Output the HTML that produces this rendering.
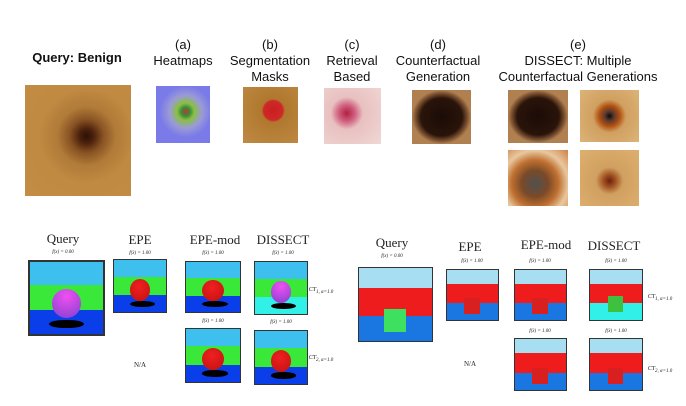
<!DOCTYPE html>
<html><head><meta charset="utf-8"><style>
body{margin:0;width:686px;height:406px;background:#fff;position:relative;overflow:hidden;font-family:"Liberation Sans",sans-serif}
.a{position:absolute}
.t{position:absolute;text-align:center;font-size:13px;line-height:16px;color:#111;transform:translateX(-50%);white-space:nowrap}
.s{position:absolute;font-family:"Liberation Serif",serif;color:#222;transform:translateX(-50%);white-space:nowrap}
.h{font-size:13px}
.f{font-size:5px;font-style:italic}
.box{position:absolute;border:1.5px solid #333;overflow:hidden;box-sizing:border-box}
.sky{position:absolute;left:0;right:0;top:0;height:32%;background:#3ec0ef}
.grn{position:absolute;left:0;right:0;top:32%;height:35%;background:#3ae83a}
.flr{position:absolute;left:0;right:0;top:67%;bottom:0;background:#0a3ee8}
.ball{position:absolute;border-radius:50%}
.rb{background:radial-gradient(circle at 45% 35%,#f02020,#c01010)}
.shd{position:absolute;border-radius:50%;background:#000}
.sky2{position:absolute;left:0;right:0;top:0;height:28%;background:#a8def2}
.red2{position:absolute;left:0;right:0;top:28%;height:38%;background:#ee1c1c}
.flr2{position:absolute;left:0;right:0;top:66%;bottom:0;background:#1a76e0}
.cube{position:absolute}
</style></head><body>
<div class="t" style="left:77px;top:50px;font-weight:bold">Query: Benign</div>
<div class="a" style="left:25px;top:85px;width:106px;height:111px;background:radial-gradient(circle at 58% 46%,#2a1208 0,#4a200c 8%,#8a5424 20%,#b07a38 34%,#c08a42 55%,#c48c45 100%)"></div>
<div class="t" style="left:183px;top:37px">(a)<br>Heatmaps</div>
<div class="a" style="left:156px;top:86px;width:54px;height:57px;background:radial-gradient(circle at 55% 45%,#c03a20 0,#3a8a40 10%,#8ac040 20%,#9a9ad8 38%,#7a7ae8 60%,#7a7ae8 100%)"></div>
<div class="t" style="left:270px;top:37px">(b)<br>Segmentation<br>Masks</div>
<div class="a" style="left:243px;top:87px;width:55px;height:56px;background:radial-gradient(circle at 55% 42%,#c82020 0,#d02828 22%,#b0782e 26%,#c08a45 100%)"></div>
<div class="t" style="left:352px;top:37px">(c)<br>Retrieval<br>Based</div>
<div class="a" style="left:324px;top:88px;width:57px;height:56px;background:radial-gradient(circle at 40% 45%,#b02040 0,#d06080 18%,#e8c0c0 35%,#f0d8d4 100%)"></div>
<div class="t" style="left:438px;top:37px">(d)<br>Counterfactual<br>Generation</div>
<div class="a" style="left:412px;top:90px;width:59px;height:54px;background:radial-gradient(closest-side,#1a0c06 0,#2a140a 70%,#7a5030 88%,#b08050 100%) #b88a55"></div>
<div class="t" style="left:578px;top:37px">(e)<br>DISSECT: Multiple<br>Counterfactual Generations</div>
<div class="a" style="left:508px;top:90px;width:60px;height:53px;background:radial-gradient(closest-side,#1a0c06 0,#2a140a 70%,#7a5030 88%,#b08050 100%) #b88a55"></div>
<div class="a" style="left:580px;top:90px;width:59px;height:52px;background:radial-gradient(circle at 50% 50%,#100808 0,#5a3a30 12%,#b05010 26%,#d0a060 42%,#dcb478 100%)"></div>
<div class="a" style="left:508px;top:150px;width:60px;height:56px;background:radial-gradient(circle at 45% 60%,#505050 0,#7a4a28 28%,#c07030 50%,#e8c8a0 70%,#d08040 100%)"></div>
<div class="a" style="left:580px;top:150px;width:59px;height:56px;background:radial-gradient(circle at 50% 55%,#6a2010 0,#a05020 14%,#d0a060 32%,#deb070 100%)"></div>

<div class="s h" style="left:63px;top:231px">Query</div>
<div class="s f" style="left:63px;top:250px">f(x) = 0.00</div>
<div class="box" style="left:28px;top:260px;width:77px;height:76px;border-width:2px"><div class="sky"></div><div class="grn"></div><div class="flr"></div><div class="shd" style="left:26%;top:80%;width:48%;height:12%"></div><div class="ball" style="left:30%;top:38%;width:40%;height:40%;background:radial-gradient(circle at 50% 25%,#f050f0,#8040d0)"></div></div>

<div class="s h" style="left:140px;top:232px">EPE</div>
<div class="s f" style="left:140px;top:251px">f(x̄) = 1.00</div>
<div class="box" style="left:113px;top:259px;width:54px;height:54px"><div class="sky"></div><div class="grn"></div><div class="flr"></div><div class="shd" style="left:30%;top:78%;width:48%;height:12%"></div><div class="ball rb" style="left:30%;top:36%;width:40%;height:42%"></div></div>
<div class="s" style="left:140px;top:361px;font-size:7px">N/A</div>

<div class="s h" style="left:215px;top:232px">EPE-mod</div>
<div class="s f" style="left:213px;top:251px">f(x̄) = 1.00</div>
<div class="box" style="left:185px;top:261px;width:56px;height:52px"><div class="sky"></div><div class="grn"></div><div class="flr"></div><div class="shd" style="left:30%;top:78%;width:48%;height:12%"></div><div class="ball rb" style="left:30%;top:36%;width:40%;height:42%"></div></div>
<div class="s f" style="left:213px;top:319px">f(x̄) = 1.00</div>
<div class="box" style="left:185px;top:328px;width:56px;height:55px"><div class="sky"></div><div class="grn"></div><div class="flr"></div><div class="shd" style="left:30%;top:78%;width:48%;height:12%"></div><div class="ball rb" style="left:30%;top:36%;width:40%;height:42%"></div></div>

<div class="s h" style="left:283px;top:232px">DISSECT</div>
<div class="s f" style="left:283px;top:251px">f(x̄) = 1.00</div>
<div class="box" style="left:254px;top:261px;width:54px;height:54px"><div class="sky"></div><div class="grn"></div><div class="flr" style="background:#30f0e8"></div><div class="shd" style="left:30%;top:78%;width:48%;height:12%"></div><div class="ball" style="left:30%;top:36%;width:40%;height:42%;background:radial-gradient(circle at 50% 25%,#f050f0,#8040d0)"></div></div>
<div class="s" style="left:321px;top:287px;font-size:6px;font-style:italic">CT<sub>1, α=1.0</sub></div>
<div class="s f" style="left:281px;top:320px">f(x̄) = 1.00</div>
<div class="box" style="left:254px;top:330px;width:54px;height:55px"><div class="sky"></div><div class="grn"></div><div class="flr"></div><div class="shd" style="left:30%;top:78%;width:48%;height:12%"></div><div class="ball rb" style="left:30%;top:36%;width:40%;height:42%"></div></div>
<div class="s" style="left:321px;top:355px;font-size:6px;font-style:italic">CT<sub>2, α=1.0</sub></div>

<div class="s h" style="left:392px;top:235px">Query</div>
<div class="s f" style="left:392px;top:254px">f(x) = 0.00</div>
<div class="box" style="left:358px;top:267px;width:75px;height:75px"><div class="sky2"></div><div class="red2"></div><div class="flr2"></div><div class="cube" style="left:34%;top:56%;width:30%;height:32%;background:#3ee060"></div></div>

<div class="s h" style="left:470px;top:239px">EPE</div>
<div class="s f" style="left:472px;top:259px">f(x̄) = 1.00</div>
<div class="box" style="left:446px;top:269px;width:53px;height:52px"><div class="sky2"></div><div class="red2"></div><div class="flr2"></div><div class="cube" style="left:34%;top:56%;width:30%;height:32%;background:#d82020"></div></div>
<div class="s" style="left:470px;top:360px;font-size:7px">N/A</div>

<div class="s h" style="left:546px;top:237px">EPE-mod</div>
<div class="s f" style="left:540px;top:259px">f(x̄) = 1.00</div>
<div class="box" style="left:514px;top:269px;width:53px;height:52px"><div class="sky2"></div><div class="red2"></div><div class="flr2"></div><div class="cube" style="left:34%;top:56%;width:30%;height:32%;background:#d82020"></div></div>
<div class="s f" style="left:540px;top:329px">f(x̄) = 1.00</div>
<div class="box" style="left:514px;top:338px;width:53px;height:53px"><div class="sky2"></div><div class="red2"></div><div class="flr2"></div><div class="cube" style="left:34%;top:56%;width:30%;height:32%;background:#d82020"></div></div>

<div class="s h" style="left:614px;top:238px">DISSECT</div>
<div class="s f" style="left:616px;top:259px">f(x̄) = 1.00</div>
<div class="box" style="left:589px;top:269px;width:54px;height:52px"><div class="sky2"></div><div class="red2"></div><div class="flr2" style="background:#30f0e8"></div><div class="cube" style="left:34%;top:52%;width:30%;height:32%;background:#3ec040"></div></div>
<div class="s" style="left:660px;top:294px;font-size:6px;font-style:italic">CT<sub>1, α=1.0</sub></div>
<div class="s f" style="left:616px;top:329px">f(x̄) = 1.00</div>
<div class="box" style="left:589px;top:338px;width:54px;height:53px"><div class="sky2"></div><div class="red2"></div><div class="flr2"></div><div class="cube" style="left:34%;top:56%;width:30%;height:32%;background:#d82020"></div></div>
<div class="s" style="left:660px;top:366px;font-size:6px;font-style:italic">CT<sub>2, α=1.0</sub></div>
</body></html>
